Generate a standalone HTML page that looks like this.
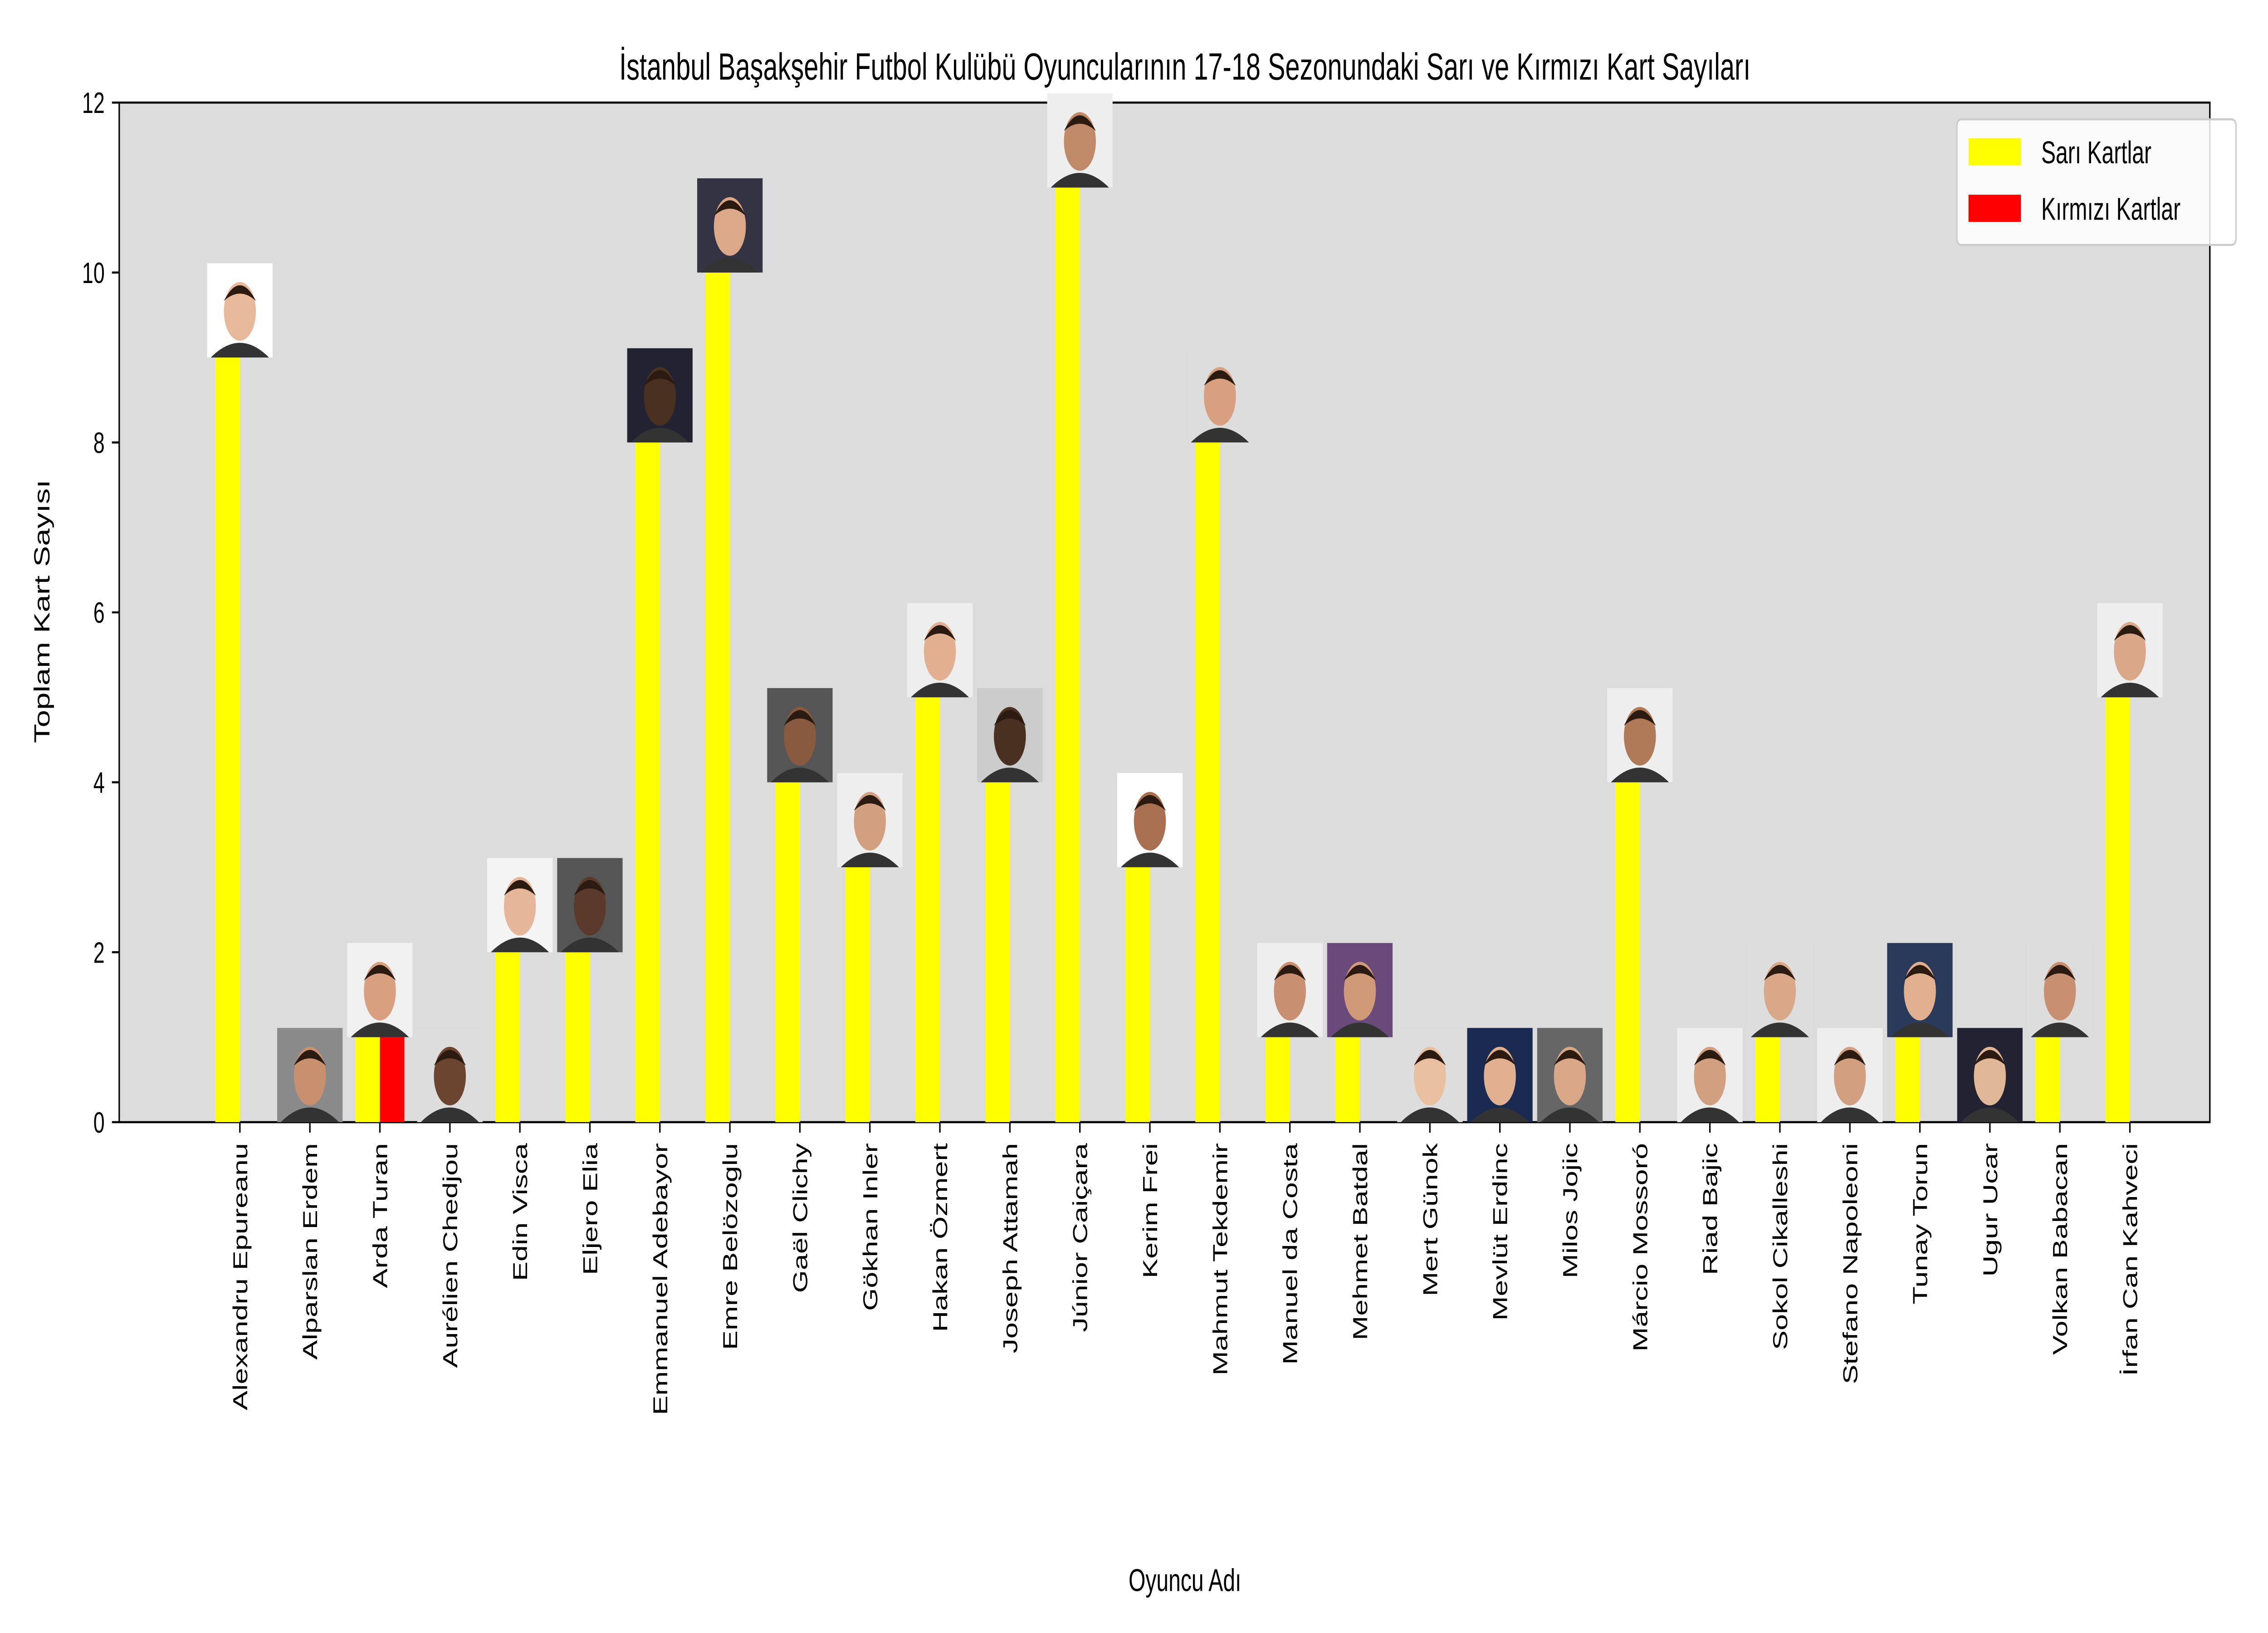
<!DOCTYPE html>
<html><head><meta charset="utf-8"><style>html,body{margin:0;padding:0;background:#fff;width:100vw;height:100vh;overflow:hidden}svg{display:block;position:absolute;left:0;top:0;width:100vw;height:100vh}text{font-family:"Liberation Sans","DejaVu Sans",sans-serif;fill:#000}</style></head>
<body>
<svg id="chart" viewBox="0 0 1560 780" preserveAspectRatio="none" xmlns="http://www.w3.org/2000/svg">
<rect width="1560" height="780" fill="#fff"/>
<rect x="82" y="49" width="1438" height="487" fill="#dcdcdc" stroke="#000" stroke-width="1"/>
<text x="815" y="38" font-size="18" text-anchor="middle">İstanbul Başakşehir Futbol Kulübü Oyuncularının 17-18 Sezonundaki Sarı ve Kırmızı Kart Sayıları</text>
<text transform="translate(34,292) rotate(-90)" font-size="15" text-anchor="middle">Toplam Kart Sayısı</text>
<text x="815" y="760" font-size="15" text-anchor="middle">Oyuncu Adı</text>
<g id="yticks"></g><g id="bars"></g><g id="xticks"></g>
<g>
<rect x="1346" y="57" width="192" height="60" fill="#fff" fill-opacity="0.85" stroke="#ccc" rx="3"/>
<rect x="1354" y="66" width="36" height="13" fill="#ffff00"/>
<text x="1404" y="78" font-size="15">Sarı Kartlar</text>
<rect x="1354" y="93" width="36" height="13" fill="#ff0000"/>
<text x="1404" y="105" font-size="15">Kırmızı Kartlar</text>
</g>
</svg>
<script>
const players=["Alexandru Epureanu","Alparslan Erdem","Arda Turan","Aurélien Chedjou","Edin Visca","Eljero Elia","Emmanuel Adebayor","Emre Belözoglu","Gaël Clichy","Gökhan Inler","Hakan Özmert","Joseph Attamah","Júnior Caiçara","Kerim Frei","Mahmut Tekdemir","Manuel da Costa","Mehmet Batdal","Mert Günok","Mevlüt Erdinc","Milos Jojic","Márcio Mossoró","Riad Bajic","Sokol Cikalleshi","Stefano Napoleoni","Tunay Torun","Ugur Ucar","Volkan Babacan","İrfan Can Kahveci"];
const yellowCards=[9,0,1,0,2,2,8,10,4,3,5,4,11,3,8,1,1,0,0,0,4,0,1,0,1,0,1,5];
const redCards=[0,0,1,0,0,0,0,0,0,0,0,0,0,0,0,0,0,0,0,0,0,0,0,0,0,0,0,0];
const yTicks=[0,2,4,6,8,10,12];
const NS="http://www.w3.org/2000/svg";
const X0=165,DX=(1465-165)/27,BW=0.35*DX;
const xs=i=>X0+i*DX;
const ys=v=>536-v*(487/12);
function mk(tag,attrs,parent){const e=document.createElementNS(NS,tag);for(const k in attrs)e.setAttribute(k,attrs[k]);parent.appendChild(e);return e;}
const yg=document.getElementById('yticks'),bg=document.getElementById('bars'),xg=document.getElementById('xticks');
yTicks.forEach(t=>{
 const l=mk('line',{x1:77,x2:82,y1:ys(t),y2:ys(t),stroke:'#000'},yg);
 
 
 const tx=mk('text',{x:72,y:ys(t)+5,'font-size':14,'text-anchor':'end'},yg);
 tx.textContent=t;
 
 
});
const skins=['#e8b89a','#c99070','#d9a080','#6b4530','#e6b69a','#5a3a2a','#4a3020','#dca88a','#8a5a40','#d0a080','#e0b090','#4a3020','#c08a68','#a87050','#d8a080','#c89070','#d09a78','#e8c0a0','#e0b090','#d8a888','#b07a58','#d0a080','#d8a888','#d0a080','#e0b090','#e0b898','#c89070','#d8a888'];
const bgs=['#fff','#8a8a8a','#f0f0f0','#ddd','#f4f4f4','#555','#223','#334','#555','#eee','#eee','#ccc','#eee','#fff','#ddd','#eee','#6a4a7a','#ddd','#1a2a50','#666','#eee','#eee','#ddd','#eee','#2a3a5a','#223','#ddd','#eee'];
players.forEach((p,i)=>{
 const x=xs(i);
 const yb=mk('rect',{x:x-BW,y:ys(yellowCards[i]),width:BW,height:536-ys(yellowCards[i]),fill:'#ffff00'},bg);
 
 
 const rb=mk('rect',{x:x,y:ys(redCards[i]),width:BW,height:536-ys(redCards[i]),fill:'#ff0000'},bg);
 
 
 const top=ys(Math.max(yellowCards[i],redCards[i]));
 const g=mk('g',{},bg);
 
 
 mk('rect',{x:x-22.5,y:top-45,width:45,height:45,fill:bgs[i]},g);
 mk('path',{d:`M${x-20} ${top} Q${x} ${top-14} ${x+20} ${top} Z`,fill:'#333'},g);
 mk('ellipse',{cx:x,cy:top-22,rx:11,ry:14,fill:skins[i]},g);
 mk('path',{d:`M${x-11} ${top-27} Q${x} ${top-42} ${x+11} ${top-27} Q${x} ${top-34} ${x-11} ${top-27}Z`,fill:'#2a1a10'},g);
 const tk=mk('line',{x1:x,x2:x,y1:536,y2:541,stroke:'#000'},xg);
 
 
 const tx=mk('text',{transform:`translate(${x+5},546) rotate(-90)`,'font-size':14,'text-anchor':'end'},xg);
 tx.textContent=p;
 
 
});
</script>
</body></html>
